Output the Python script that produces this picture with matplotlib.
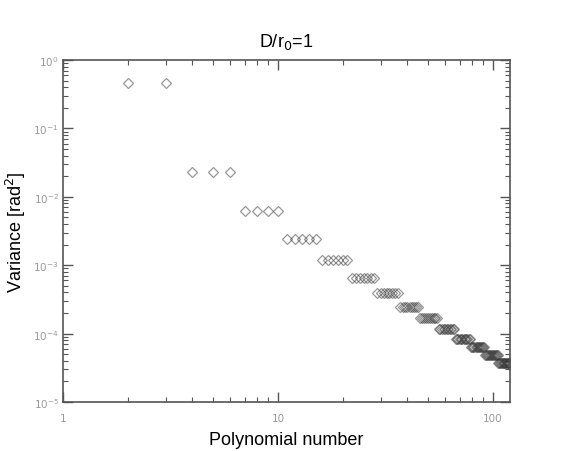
import numpy as np
import matplotlib.pyplot as plt
from matplotlib.ticker import LogLocator, FixedLocator, FixedFormatter, NullFormatter

# variance per radial order (n = 1..14)
radial_order = [1, 2, 3, 4, 5, 6, 7, 8, 9, 10, 11, 12, 13, 14]
modes_per_order = [2, 3, 4, 5, 6, 7, 8, 9, 10, 11, 12, 13, 14, 15]
variance_per_order = [0.46, 0.0232, 0.0062, 0.00245, 0.00119, 6.6e-4, 3.98e-4,
                      2.48e-4, 1.67e-4, 1.18e-4, 8.4e-5, 6.3e-5, 4.8e-5, 3.7e-5]

x_ticks = [1, 10, 100]
x_ticklabels = ['1', '10', '100']

# polynomial index j starts at 2 (piston excluded)
var = np.repeat(variance_per_order, modes_per_order)
j = np.arange(2, 2 + len(var))

fig = plt.figure(figsize=(5.64, 4.52), dpi=100)
ax = fig.add_axes([0.1117, 0.1084, 0.7925, 0.7566])

ax.plot(j, var, linestyle='none', marker='D', markersize=4.6,
        markerfacecolor='none', markeredgecolor=(0.2, 0.2, 0.2, 0.5),
        markeredgewidth=0.9)

ax.set_xscale('log')
ax.set_yscale('log')
ax.set_xlim(1, 120)
ax.set_ylim(1e-5, 1)

# IDL-like axes: ticks inward on every side
spine_col = '#555555'
lab_col = '#9a9a9a'
for s in ax.spines.values():
    s.set_color(spine_col)
    s.set_linewidth(1.2)

ax.xaxis.set_major_locator(FixedLocator(x_ticks))
ax.xaxis.set_major_formatter(FixedFormatter(x_ticklabels))
ax.xaxis.set_minor_locator(LogLocator(base=10, subs=np.arange(2, 10)))
ax.xaxis.set_minor_formatter(NullFormatter())
ax.yaxis.set_major_locator(LogLocator(base=10, numticks=10))
ax.yaxis.set_minor_locator(LogLocator(base=10, subs=np.arange(2, 10), numticks=10))
ax.yaxis.set_minor_formatter(NullFormatter())

ax.tick_params(which='both', direction='in', top=True, right=True,
               color=spine_col, labelcolor=lab_col, labelsize=7.5)
ax.tick_params(which='major', length=7, width=1.0)
ax.tick_params(axis='x', which='major', pad=8)
ax.tick_params(axis='y', which='major', pad=3)
ax.tick_params(which='minor', length=3.5, width=0.8)

ax.set_title('D/r$_0$=1', fontsize=13, fontfamily='Liberation Sans', pad=10)
ax.set_xlabel('Polynomial number', fontsize=13, fontfamily='Liberation Sans', labelpad=6)
ax.set_ylabel('Variance [rad$^2$]', fontsize=13, fontfamily='Liberation Sans')
ax.yaxis.set_label_coords(-0.078, 0.5)

fig.savefig('out.png', dpi=100)
